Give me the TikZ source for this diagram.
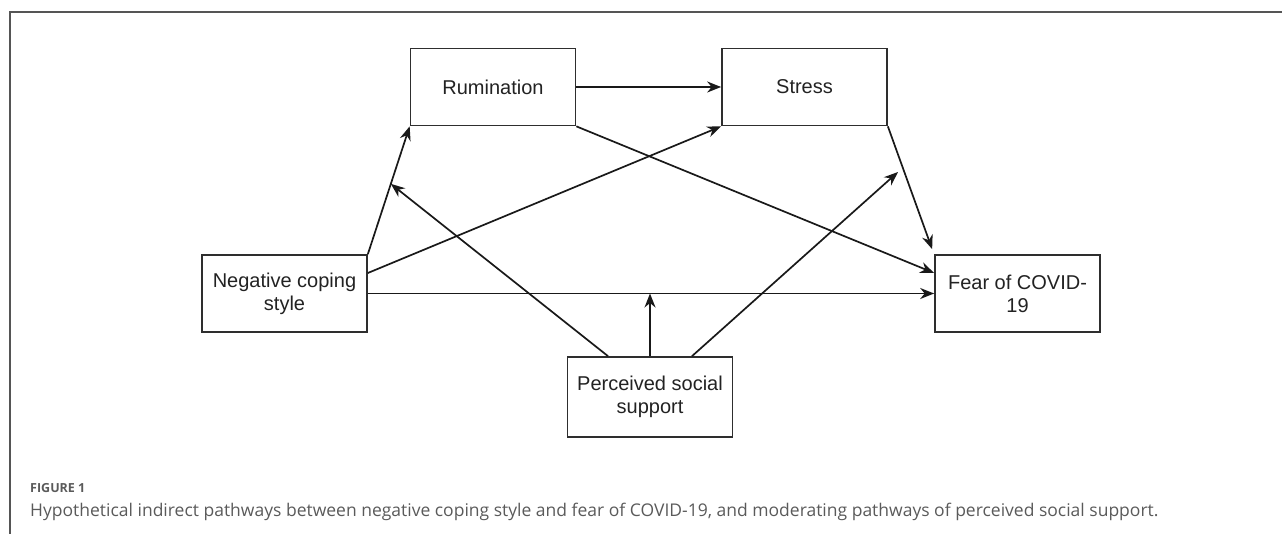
\documentclass[tikz,border=0pt]{standalone}
\usepackage{fontspec}
\setmainfont{Liberation Sans}
\newfontfamily\capfont{Open Sans}
\usetikzlibrary{arrows.meta,calc}
\definecolor{framegray}{HTML}{555555}
\definecolor{boxline}{HTML}{2E2E2E}
\definecolor{boxtext}{HTML}{222222}
\definecolor{capgray}{HTML}{5A5A5A}
\tikzset{
  varbox/.style={draw=boxline, line width=1.7pt, minimum width=165pt, minimum height=77pt,
    inner sep=0pt, align=center, text=boxtext, font=\fontsize{20}{23}\selectfont},
  conn/.style={draw=black!90, line width=1.7pt, -{Stealth[length=14pt,width=11pt,inset=4.5pt]}},
  framel/.style={draw=framegray, line width=1.3pt},
}
\begin{document}
\begin{tikzpicture}[x=1pt,y=-1pt]
\useasboundingbox (0,0) rectangle (1282,534);
% frame
\draw[framel] (10,534) -- (10,12) -- (1282,12);
% boxes
\node[varbox] (rum) at (493,87) {Rumination};
\node[varbox] (str) at (804.5,87) {Stress};
\node[varbox] (nc) at (284.5,293.5) {Negative coping\\style};
\node[varbox] (fear) at (1017.5,293.5) {Fear of COVID-\\19};
\node[varbox, minimum height=80pt] (pss) at (650,397) {Perceived social\\support};
% coordinates
\coordinate (ftip) at ([shift={(-2pt,5pt)}]fear.north west);
\coordinate (m1) at ($(nc.north east)!0.55!(rum.south west)$);
\coordinate (m3) at (898,172);
% paths
\draw[conn] (nc.north east) -- (rum.south west);
\draw[conn] ([yshift=20.5pt]nc.east) -- (str.south west);
\draw[conn] (nc.east) -- (fear.west);
\draw[conn] (rum.east) -- (str.west);
\draw[conn] (rum.south east) -- ([yshift=20.5pt]fear.west);
\draw[conn] (str.south east) -- (ftip);
\draw[conn] ([xshift=-42pt]pss.north) -- (m1);
\draw[conn] (pss.north) -- (pss.north |- nc.east);
\draw[conn] ([xshift=42pt]pss.north) -- (m3);
% caption
\node[anchor=base west, inner sep=0pt, text=capgray, font=\capfont\bfseries\fontsize{12.5}{15}\selectfont] (fig) at (30,492) {FIGURE 1};
\node[anchor=base west, inner sep=0pt, text=capgray, font=\capfont\fontsize{17.5}{21}\selectfont] (cap) at (30,516) {Hypothetical indirect pathways between negative coping style and fear of COVID-19, and moderating pathways of perceived social support.};
\end{tikzpicture}
\end{document}
